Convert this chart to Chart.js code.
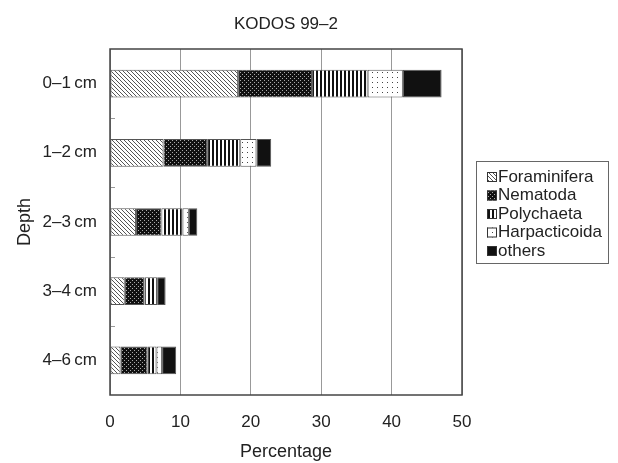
<!DOCTYPE html>
<html lang="en">
<head>
  <meta charset="UTF-8">
  <title>KODOS 99-2</title>
  <script src="https://cdn.jsdelivr.net/npm/chart.js"></script>
  <style>
    body { margin: 0; background: #fff; }
    canvas { display: block; }
  </style>
</head>
<body>
<canvas id="grafico" width="618" height="463"></canvas>

<script>
  const titulo = "KODOS 99\u20132";
  const profundidades = ["0\u20131\u2009cm", "1\u20132\u2009cm", "2\u20133\u2009cm", "3\u20134\u2009cm", "4\u20136\u2009cm"];
  const grupos = ["Foraminifera", "Nematoda", "Polychaeta", "Harpacticoida", "others"];
  const foraminifera = [18.2, 7.6, 3.7, 2.1, 1.5];
  const nematoda = [10.5, 6.2, 3.6, 2.8, 3.8];
  const polychaeta = [7.9, 4.7, 3.0, 1.8, 1.3];
  const harpacticoida = [5.0, 2.3, 0.9, 0, 0.8];
  const others = [5.5, 2.1, 1.2, 1.2, 2.0];
  const ticksX = [0, 10, 20, 30, 40, 50];

  const fuente = "'Liberation Sans', Arial, sans-serif";

  // tramas en blanco y negro
  function trama(w, h, fondo, tinta, pintar) {
    const c = document.createElement("canvas");
    c.width = w; c.height = h;
    const g = c.getContext("2d");
    g.fillStyle = fondo;
    g.fillRect(0, 0, w, h);
    g.fillStyle = tinta;
    for (let x = 0; x < w; x++) {
      for (let y = 0; y < h; y++) {
        if (pintar(x, y)) g.fillRect(x, y, 1, 1);
      }
    }
    return g.createPattern(c, "repeat");
  }

  const rellenos = [
    trama(4, 4, "#fff", "#555", (x, y) => (x - y + 4) % 4 === 0),
    trama(4, 4, "#111", "#aaa", (x, y) => (x === 0 && y === 0) || (x === 2 && y === 2)),
    trama(4, 4, "#fff", "#111", (x, y) => x < 2),
    trama(5, 5, "#fff", "#444", (x, y) => x === 2 && y === 2),
    "#111"
  ];

  const series = [foraminifera, nematoda, polychaeta, harpacticoida, others];

  const extras = {
    id: "extras",
    afterDraw(chart) {
      const ctx = chart.ctx;
      const area = chart.chartArea;
      const yScale = chart.scales.y;

      ctx.save();
      // titulo centrado sobre el area del grafico
      ctx.fillStyle = "#222";
      ctx.font = "17px " + fuente;
      ctx.textAlign = "center";
      ctx.textBaseline = "middle";
      ctx.fillText(titulo, (area.left + area.right) / 2, 24);
      ctx.textAlign = "left";

      // marquitas entre categorias
      ctx.strokeStyle = "#999";
      ctx.lineWidth = 1;
      for (let i = 1; i < profundidades.length; i++) {
        const y = Math.round((yScale.getPixelForValue(i - 1) + yScale.getPixelForValue(i)) / 2) + 0.5;
        ctx.beginPath();
        ctx.moveTo(area.left, y);
        ctx.lineTo(area.left + 5, y);
        ctx.stroke();
      }

      // marco
      ctx.strokeStyle = "#444";
      ctx.lineWidth = 1.5;
      ctx.strokeRect(area.left, area.top, area.right - area.left, area.bottom - area.top);

      // leyenda
      const x0 = area.right + 14;
      const y0 = 161;
      ctx.strokeStyle = "#666";
      ctx.lineWidth = 1;
      ctx.strokeRect(x0 + 0.5, y0 + 0.5, 132, 102);
      ctx.font = "17px " + fuente;
      grupos.forEach((nombre, i) => {
        const yc = y0 + 16 + i * 18.5;
        ctx.fillStyle = rellenos[i];
        ctx.fillRect(x0 + 11, yc - 5, 10, 10);
        ctx.strokeStyle = "#333";
        ctx.strokeRect(x0 + 11.5, yc - 4.5, 9, 9);
        ctx.fillStyle = "#222";
        ctx.fillText(nombre, x0 + 22, yc);
      });
      ctx.restore();
    }
  };

  new Chart(document.getElementById("grafico"), {
    type: "bar",
    data: {
      labels: profundidades,
      datasets: grupos.map((nombre, i) => ({
        label: nombre,
        data: series[i],
        backgroundColor: rellenos[i],
        borderColor: "#555",
        borderWidth: 1,
        borderSkipped: false,
        barPercentage: 0.8,
        categoryPercentage: 0.5
      }))
    },
    options: {
      indexAxis: "y",
      responsive: false,
      animation: false,
      layout: { padding: { left: 0, right: 156, top: 49, bottom: 0 } },
      plugins: {
        legend: { display: false },
        tooltip: { enabled: false },
        title: { display: false }
      },
      scales: {
        x: {
          stacked: true,
          min: 0,
          max: 50,
          afterBuildTicks: s => { s.ticks = ticksX.map(v => ({ value: v })); },
          afterFit: s => { s.height = 68; },
          grid: { color: "#999", drawTicks: false },
          border: { display: false },
          ticks: { color: "#222", padding: 17, font: { family: fuente, size: 17 } },
          title: {
            display: true,
            text: "Percentage",
            color: "#222",
            font: { family: fuente, size: 18 },
            padding: { top: 0, bottom: 0 }
          }
        },
        y: {
          stacked: true,
          afterFit: s => { s.width = 110; },
          grid: { display: false, drawTicks: false },
          border: { display: false },
          ticks: { color: "#222", padding: 13, font: { family: fuente, size: 17 } },
          title: {
            display: true,
            text: "Depth",
            color: "#222",
            font: { family: fuente, size: 18 },
            padding: { top: 14, bottom: 0 }
          }
        }
      }
    },
    plugins: [extras]
  });
</script>
</body>
</html>
